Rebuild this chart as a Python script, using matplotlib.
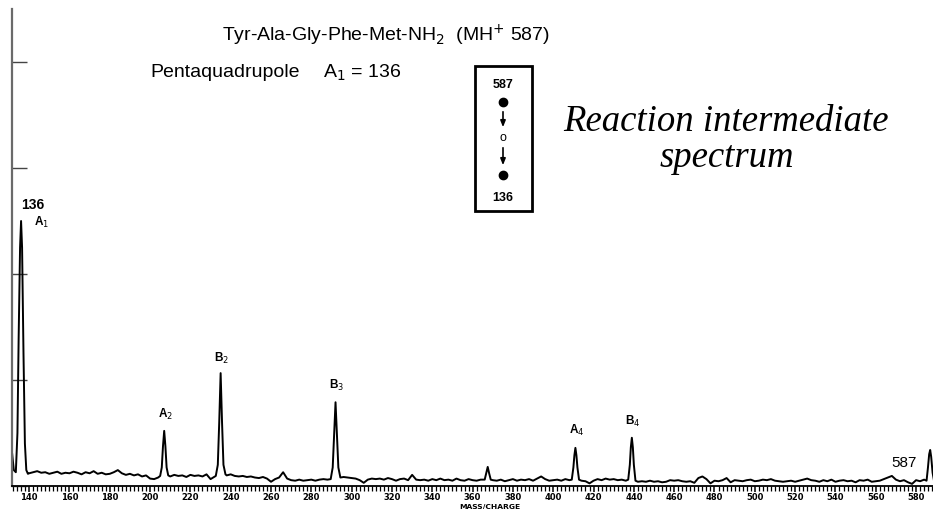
import numpy as np
import matplotlib
matplotlib.use("Agg")
import matplotlib.pyplot as plt
from matplotlib.patches import Rectangle, FancyArrowPatch
from matplotlib.ticker import MultipleLocator

W, H = 933, 510

# ---- data -------------------------------------------------------------
# baseline intensity, every 2 m/z units starting at each segment's m/z
baseline_segments = [
    (140, [2.4, 2.6, 2.8, 2.5, 2.6, 2.3, 2.5, 2.7, 2.3, 2.5,
           2.4, 2.7, 2.5, 2.2, 2.6, 2.4, 2.8, 2.3, 2.5, 2.2,
           2.3, 2.6, 3.0, 2.4, 2.1, 2.3, 2.0, 2.2, 1.8, 2.0,
           1.4, 1.3, 1.6]),
    (210, [1.8, 2.1, 1.9, 2.0, 1.7, 2.1, 1.9, 2.0, 1.8, 2.2, 1.3]),
    (238, [2.0, 2.2, 1.9, 1.8, 1.9, 1.7, 1.8, 1.6, 1.5, 1.7,
           1.4, 0.8, 1.3, 1.6, 2.6, 1.4, 1.1, 1.0, 1.2, 1.0,
           1.1, 1.2, 1.0, 1.2, 1.3, 1.2]),
    (296, [1.7, 1.6, 1.5, 1.4, 1.1, 0.6, 1.2, 1.4, 1.3, 1.4,
           1.2, 1.5, 1.3, 1.0, 1.3, 1.4, 1.1, 2.1, 1.2, 1.1,
           1.2, 1.0, 1.3, 1.1, 1.4, 1.1, 1.2, 1.0, 1.4, 1.1,
           1.0, 1.3, 1.1, 1.0, 1.2]),
    (370, [1.1, 1.0, 1.2, 0.9, 1.1, 1.3, 1.0, 1.2, 1.1, 1.3,
           1.0, 1.4, 1.8, 1.3, 1.0, 1.1, 1.2, 1.0, 1.3, 1.1]),
    (414, [1.0, 0.9, 0.5, 1.0, 1.3, 1.1, 1.4, 1.2, 1.3, 1.1, 1.2, 1.0]),
    (442, [0.8, 0.9, 0.8, 1.0, 0.8, 0.9, 0.7, 0.8, 1.1, 1.0,
           1.1, 0.9, 0.8, 0.9, 0.6, 1.5, 1.8, 1.3, 0.5, 1.0,
           0.9, 1.1, 1.5, 0.7, 1.1, 1.0, 0.9, 1.1, 1.2, 0.9,
           1.0, 1.2, 1.1, 1.3, 1.0, 0.9, 0.8, 0.9, 1.0, 0.8,
           1.0, 1.2, 1.4, 1.1, 1.0, 0.8, 1.1, 0.9, 1.2, 0.8,
           1.0, 1.1, 0.9, 1.0, 0.7, 1.1, 1.0, 1.2, 0.8, 0.9,
           1.0, 1.3, 1.6, 1.9, 1.2, 0.9, 1.1, 0.7, 0.4, 1.1,
           0.9, 1.2]),
]

# peak profiles (m/z, relative intensity)
a1_mz = [131.6, 132.4, 133.4, 134.2, 134.8, 135.5, 136.0, 136.5, 137.2, 137.9, 138.6, 139.4]
a1_int = [6.0, 3.0, 2.6, 10.0, 28.0, 45.0, 50.0, 45.0, 25.0, 8.0, 3.0, 2.3]
a2_mz = [205.0, 205.8, 206.4, 207.0, 207.6, 208.2, 209.0]
a2_int = [1.9, 3.5, 7.5, 10.4, 7.5, 3.5, 2.0]
b2_mz = [232.6, 233.6, 234.3, 235.0, 235.7, 236.4, 237.4]
b2_int = [1.9, 4.0, 12.0, 21.3, 12.0, 4.0, 2.2]
b3_mz = [289.6, 290.6, 291.3, 292.0, 292.7, 293.4, 294.4]
b3_int = [1.3, 3.5, 9.5, 15.8, 9.5, 3.5, 1.6]
m367_mz = [366.0, 366.8, 367.5, 368.2, 369.0]
m367_int = [1.2, 2.5, 3.6, 2.4, 1.2]
a4_mz = [409.2, 410.0, 410.5, 411.0, 411.5, 412.0, 412.8]
a4_int = [1.2, 3.5, 5.8, 7.2, 5.8, 3.5, 1.2]
b4_mz = [437.2, 438.0, 438.5, 439.0, 439.5, 440.0, 440.8]
b4_int = [1.2, 4.0, 7.3, 9.1, 7.3, 4.0, 1.0]
mh_mz = [585.2, 585.9, 586.5, 587.0, 587.5, 588.2, 588.8]
mh_int = [1.0, 3.5, 6.0, 6.8, 5.5, 2.5, 1.2]

# fragment annotations: label, m/z of the peak, its height
frag_labels = ["A$_1$", "A$_2$", "B$_2$", "B$_3$", "A$_4$", "B$_4$"]
frag_mz = [136, 207, 235, 292, 411, 439]
frag_height = [50.0, 10.4, 21.3, 15.8, 7.2, 9.1]

xtick_values = list(range(140, 581, 20))

# ---- assemble trace ---------------------------------------------------
mz, inten = [], []
for start, vals in baseline_segments:
    mz += [start + 2 * i for i in range(len(vals))]
    inten += vals
for pm, pi in [(a1_mz, a1_int), (a2_mz, a2_int), (b2_mz, b2_int), (b3_mz, b3_int),
               (m367_mz, m367_int), (a4_mz, a4_int), (b4_mz, b4_int), (mh_mz, mh_int)]:
    mz += pm
    inten += pi
order = np.argsort(mz)
mz = np.asarray(mz, float)[order]
inten = np.asarray(inten, float)[order]

# ---- figure -----------------------------------------------------------
fig = plt.figure(figsize=(W / 100, H / 100), dpi=100)
fig.patch.set_facecolor("white")


def px(x, y):
    return x / W, 1 - y / H


ax_l, ax_r, ax_t, ax_b = 12, 933, 10, 487
ax = fig.add_axes([ax_l / W, 1 - ax_b / H, (ax_r - ax_l) / W, (ax_b - ax_t) / H])
ax.plot(mz, inten, color="black", lw=1.4, solid_joinstyle="round", clip_on=False)
ax.set_xlim(131.5, 588.4)
ax.set_ylim(0, 90)

for s in ("top", "right"):
    ax.spines[s].set_visible(False)
ax.spines["left"].set_color("#6a6a6a")
ax.spines["left"].set_linewidth(1.6)
ax.spines["bottom"].set_color("black")
ax.spines["bottom"].set_linewidth(1.3)

ax.yaxis.set_major_locator(MultipleLocator(20))
ax.tick_params(axis="y", direction="in", length=11, width=1.0, color="#444444",
               labelleft=False)
ax.set_xticks(xtick_values)
ax.set_xticklabels([str(v) for v in xtick_values])
ax.xaxis.set_minor_locator(MultipleLocator(2))
ax.tick_params(axis="x", which="major", direction="out", length=4.2, width=1.1,
               color="black", pad=0.3, labelsize=6.0)
ax.tick_params(axis="x", which="minor", direction="out", length=3.8, width=0.9,
               color="black")
for lab in ax.get_xticklabels():
    lab.set_fontweight("bold")
    lab.set_family("DejaVu Sans")

fig.text(*px(490, 510), "MASS/CHARGE", fontsize=5.4, fontweight="bold",
         family="DejaVu Sans", ha="center", va="bottom")

# fragment labels
label_dy = [0.0, 3.3, 3.0, 3.3, 3.5, 3.3]
label_dx = [10.0, 0.5, 0.5, 0.5, 0.5, 0.5]
for lab, m, h, dy, dx in zip(frag_labels, frag_mz, frag_height, label_dy, label_dx):
    ax.text(m + dx, h + dy, lab, fontsize=8.5, fontweight="bold", ha="center",
            va="center", family=["Liberation Sans", "DejaVu Sans"])
ax.text(frag_mz[0] + 6.0, frag_height[0] + 3.2, "136", fontsize=10, fontweight="bold",
        ha="center", va="center", family="Liberation Sans")
ax.text(mh_mz[3] - 13, mh_int[3] - 2.2, "587", fontsize=11, ha="center", va="center",
        family="Liberation Sans")

# titles
fig.text(*px(222, 35), "Tyr-Ala-Gly-Phe-Met-NH$_2$  (MH$^{+}$ 587)", fontsize=14,
         ha="left", va="center", family="Liberation Sans")
fig.text(*px(150, 73), "Pentaquadrupole", fontsize=14, ha="left", va="center",
         family="Liberation Sans")
fig.text(*px(323, 73), "A$_1$ = 136", fontsize=14, ha="left", va="center",
         family="Liberation Sans")

# scan scheme box
x0, y0, x1, y1 = 475, 67, 532, 212
fig.patches.append(Rectangle(px(x0, y1), (x1 - x0) / W, (y1 - y0) / H,
                             transform=fig.transFigure, fill=False, lw=2.0,
                             edgecolor="black"))
cx = 503
fig.text(*px(cx, 85), "587", fontsize=9, fontweight="bold", ha="center", va="center",
         family="Liberation Sans")
fig.text(*px(cx, 198), "136", fontsize=9, fontweight="bold", ha="center", va="center",
         family="Liberation Sans")
fig.text(*px(cx, 138), "o", fontsize=9, ha="center", va="center",
         family="Liberation Sans")
for yy in (103, 176):
    fig.lines.append(plt.Line2D([px(cx, yy)[0]], [px(cx, yy)[1]], marker="o",
                                markersize=6, color="black",
                                transform=fig.transFigure))
for ya, yb in ((110, 131), (146, 169)):
    fig.add_artist(FancyArrowPatch(
        px(cx, ya), px(cx, yb), transform=fig.transFigure,
        arrowstyle="-|>,head_length=2.5,head_width=1.0", lw=1.2, color="black",
        mutation_scale=1.5))

# handwritten note
fig.text(*px(563, 122), "Reaction intermediate", fontsize=26.5, style="italic",
         ha="left", va="center", family="Liberation Serif")
fig.text(*px(660, 158), "spectrum", fontsize=26.5, style="italic", ha="left",
         va="center", family="Liberation Serif")

fig.savefig("out.png", dpi=100, facecolor="white")
